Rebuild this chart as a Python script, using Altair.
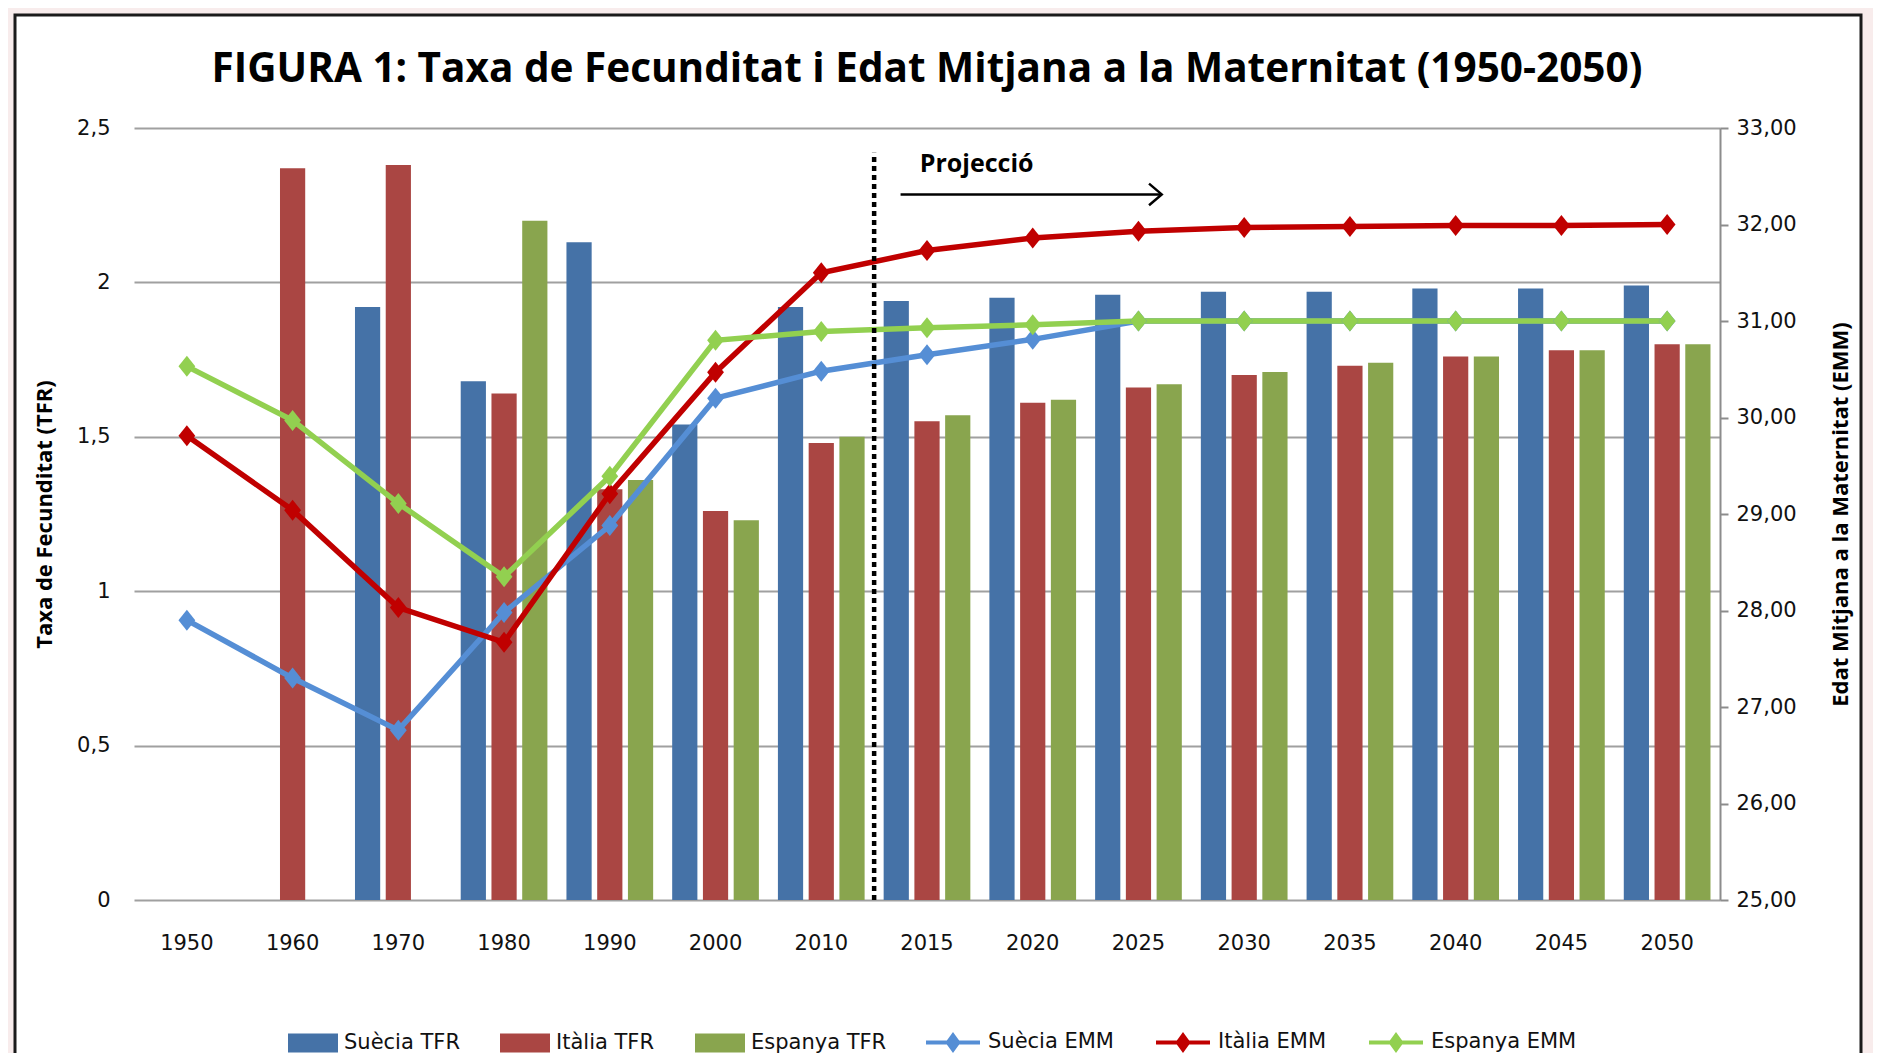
import altair as alt
import pandas as pd

# ---------------- data ----------------
years = ["1950", "1960", "1970", "1980", "1990", "2000", "2010", "2015", "2020",
         "2025", "2030", "2035", "2040", "2045", "2050"]

bar_series = ["Suècia TFR", "Itàlia TFR", "Espanya TFR"]
suecia_tfr = [None, None, 1.92, 1.68, 2.13, 1.54, 1.92, 1.94, 1.95, 1.96, 1.97, 1.97, 1.98, 1.98, 1.99]
italia_tfr = [None, 2.37, 2.38, 1.64, 1.33, 1.26, 1.48, 1.55, 1.61, 1.66, 1.70, 1.73, 1.76, 1.78, 1.80]
espanya_tfr = [None, None, None, 2.20, 1.36, 1.23, 1.50, 1.57, 1.62, 1.67, 1.71, 1.74, 1.76, 1.78, 1.80]

emm_series = ["Suècia EMM", "Itàlia EMM", "Espanya EMM"]
suecia_emm = [27.90, 27.30, 26.76, 27.98, 28.88, 30.20, 30.48, 30.65, 30.81, 31.00, 31.00, 31.00, 31.00, 31.00, 31.00]
italia_emm = [29.81, 29.04, 28.03, 27.67, 29.21, 30.47, 31.50, 31.73, 31.86, 31.93, 31.97, 31.98, 31.99, 31.99, 32.00]
espanya_emm = [30.53, 29.97, 29.11, 28.35, 29.39, 30.80, 30.89, 30.93, 30.96, 31.00, 31.00, 31.00, 31.00, 31.00, 31.00]

bar_colors = ["#4572A7", "#AA4643", "#89A54E"]
emm_colors = ["#558ED5", "#C00000", "#92D050"]

tfr_ticks = [0, 0.5, 1, 1.5, 2, 2.5]
emm_ticks = [25, 26, 27, 28, 29, 30, 31, 32, 33]

# annotation positions (in category-index units on x, TFR units on y)
divider_x = [7.0]
divider_y = [0.0]
divider_y2 = [2.42]
arrow_x = [7.25]
arrow_x2 = [9.71]
arrow_y = [2.285]
head_x = [9.60, 9.72, 9.60]
head_y = [2.32, 2.285, 2.25]
label_x = [7.97]
label_y = [2.383]
label_text = ["Projecció"]

title_text = "FIGURA 1: Taxa de Fecunditat i Edat Mitjana a la Maternitat (1950-2050)"

# ---------------- tables ----------------
bar_rows = []
for name, vals in zip(bar_series, [suecia_tfr, italia_tfr, espanya_tfr]):
    for yr, v in zip(years, vals):
        if v is not None:
            bar_rows.append({"year": yr, "serie": name, "tfr": v})
bars_df = pd.DataFrame(bar_rows)

emm_rows = []
for name, vals in zip(emm_series, [suecia_emm, italia_emm, espanya_emm]):
    for yr, v in zip(years, vals):
        emm_rows.append({"year": yr, "serie": name, "emm": v})
emm_df = pd.DataFrame(emm_rows)

W, H = 1586, 772
FONT = "DejaVu Sans"
BOLD = "Open Sans"
PINK = "#f8ecec"

one = pd.DataFrame({"k": [0]})

# outer pink strips and the black card border (no fill, so axes stay visible)
strip_top = alt.Chart(one).mark_rect(fill=PINK).encode(
    x=alt.value(-130), x2=alt.value(1745), y=alt.value(-125), y2=alt.value(-113))
strip_left = alt.Chart(one).mark_rect(fill=PINK).encode(
    x=alt.value(-130), x2=alt.value(-119), y=alt.value(-125), y2=alt.value(930))
strip_right = alt.Chart(one).mark_rect(fill=PINK).encode(
    x=alt.value(1727), x2=alt.value(1745), y=alt.value(-125), y2=alt.value(930))
border = alt.Chart(one).mark_rect(fill="transparent", stroke="#1a1a1a", strokeWidth=3).encode(
    x=alt.value(-119), x2=alt.value(1727), y=alt.value(-113), y2=alt.value(980))
title = alt.Chart(one).mark_text(text=title_text, font=BOLD, fontWeight="bold", fontSize=40.5,
                                 color="black", align="center", baseline="middle").encode(
    x=alt.value(W / 2), y=alt.value(-58))

x_scale = alt.Scale(domain=years, paddingInner=0.18, paddingOuter=0.09)

bars = alt.Chart(bars_df).mark_bar().encode(
    x=alt.X("year:N", sort=years, scale=x_scale,
            axis=alt.Axis(title=None, labelAngle=0, labelFont=FONT, labelFontSize=21,
                          labelColor="#111", labelPadding=32, ticks=False, domain=False,
                          grid=False)),
    xOffset=alt.XOffset("serie:N", sort=bar_series,
                        scale=alt.Scale(domain=bar_series, paddingInner=0.18, paddingOuter=0)),
    y=alt.Y("tfr:Q", scale=alt.Scale(domain=[0, 2.5], nice=False, zero=True),
            axis=alt.Axis(title="Taxa de Fecunditat (TFR)", values=tfr_ticks,
                          labelExpr="replace(toString(datum.value), '.', ',')",
                          grid=True, gridColor="#a0a0a0", gridWidth=2, ticks=False,
                          domain=False, labelFont=FONT, labelFontSize=21, labelColor="#111",
                          labelPadding=24, titleFont=BOLD, titleFontWeight="bold",
                          titleFontSize=22, titleColor="black", titlePadding=20)),
    color=alt.Color("serie:N", scale=alt.Scale(domain=bar_series, range=bar_colors),
                    legend=alt.Legend(title=None, orient="none", direction="horizontal",
                                      legendX=154, legendY=890,
                                      symbolType="M-1,-0.38H1V0.38H-1Z", symbolSize=2500,
                                      symbolStrokeWidth=0, labelFont=FONT, labelFontSize=21,
                                      labelColor="#111", labelOffset=6, columnPadding=40)),
)

emm_axis = alt.Axis(title="Edat Mitjana a la Maternitat (EMM)", orient="right", values=emm_ticks,
                    labelExpr="replace(format(datum.value, '.2f'), '.', ',')",
                    grid=False, ticks=True, tickSize=8, tickColor="#8c8c8c", tickWidth=2,
                    domain=True, domainColor="#8c8c8c", domainWidth=2,
                    labelFont=FONT, labelFontSize=21, labelColor="#111", labelPadding=8,
                    titleFont=BOLD, titleFontWeight="bold", titleFontSize=22,
                    titleColor="black", titlePadding=34, titleAngle=270,
                    titleBaseline="top")
emm_y_scale = alt.Scale(domain=[25, 33], nice=False, zero=False)

# legend symbol: a line with a (stroked, thick) diamond on it
LEG_SYM = ("M-1,0H1M0,-0.26L0.19,0L0,0.26L-0.19,0ZM0,-0.14L0.1,0L0,0.14L-0.1,0Z"
           "M0,-0.2V0.2")

lines = alt.Chart(emm_df).mark_line(strokeWidth=5.5).encode(
    x=alt.X("year:N", sort=years, scale=x_scale, axis=None),
    y=alt.Y("emm:Q", scale=emm_y_scale, axis=emm_axis),
    stroke=alt.Stroke("serie:N", scale=alt.Scale(domain=emm_series, range=emm_colors),
                      legend=alt.Legend(title=None, orient="none", direction="horizontal",
                                        legendX=790, legendY=885,
                                        symbolType=LEG_SYM, symbolSize=2916,
                                        symbolStrokeWidth=4, labelFont=FONT,
                                        labelFontSize=21, labelColor="#111", labelOffset=6,
                                        columnPadding=34)),
)

DIAMOND = "M0,-1L0.8,0L0,1L-0.8,0Z"
points = alt.Chart(emm_df).mark_point(filled=True, shape=DIAMOND, size=441, opacity=1,
                                      strokeWidth=0).encode(
    x=alt.X("year:N", sort=years, scale=x_scale, axis=None),
    y=alt.Y("emm:Q", scale=emm_y_scale, axis=None),
    fill=alt.Fill("serie:N", scale=alt.Scale(domain=emm_series, range=emm_colors),
                  legend=None),
)

ax = alt.Scale(domain=[0, 15], nice=False, zero=False)
ay = alt.Scale(domain=[0, 2.5], nice=False, zero=False)

div_df = pd.DataFrame({"x": divider_x, "y": divider_y, "y2": divider_y2})
divider = alt.Chart(div_df).mark_rule(color="black", strokeWidth=4.5, strokeDash=[5, 4]).encode(
    x=alt.X("x:Q", scale=ax, axis=None),
    y=alt.Y("y:Q", scale=ay, axis=None),
    y2="y2:Q",
)

arr_df = pd.DataFrame({"x": arrow_x, "x2": arrow_x2, "y": arrow_y})
arrow = alt.Chart(arr_df).mark_rule(color="black", strokeWidth=2.5).encode(
    x=alt.X("x:Q", scale=ax, axis=None),
    x2="x2:Q",
    y=alt.Y("y:Q", scale=ay, axis=None),
)

head_df = pd.DataFrame({"x": head_x, "y": head_y, "o": list(range(len(head_x)))})
head = alt.Chart(head_df).mark_line(color="black", strokeWidth=2.5).encode(
    x=alt.X("x:Q", scale=ax, axis=None),
    y=alt.Y("y:Q", scale=ay, axis=None),
    order="o:Q",
)

lab_df = pd.DataFrame({"x": label_x, "y": label_y, "t": label_text})
label = alt.Chart(lab_df).mark_text(font=BOLD, fontWeight="bold", fontSize=25,
                                    color="black").encode(
    x=alt.X("x:Q", scale=ax, axis=None),
    y=alt.Y("y:Q", scale=ay, axis=None),
    text="t:N",
)

ann_layer = alt.layer(arrow, head, label, divider)

chart = alt.layer(strip_top, strip_left, strip_right, border, title,
                  bars, lines, points, ann_layer).resolve_scale(
    x="independent", y="independent"
).properties(
    width=W, height=H,
    autosize=alt.AutoSizeParams(type="none"),
    padding={"left": 126, "top": 120, "right": 153, "bottom": 153},
    background="white",
).configure_view(stroke=None)

chart.save("out.html", embed_options={"renderer": "svg", "actions": False})
